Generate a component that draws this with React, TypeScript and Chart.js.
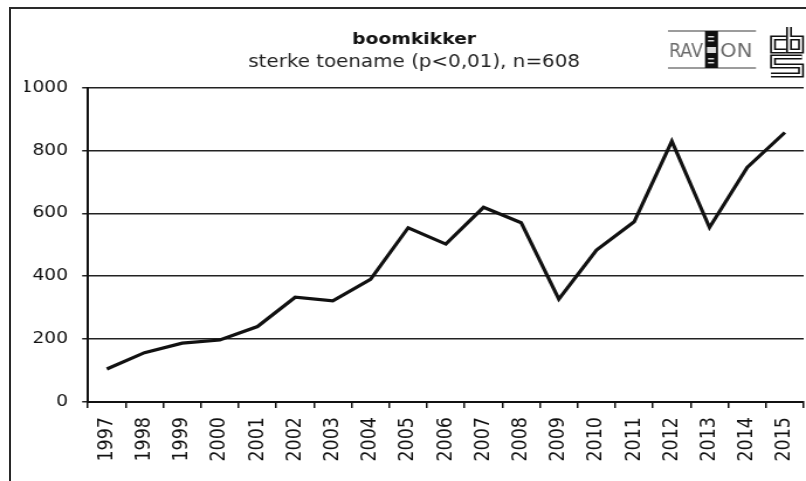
import React, { useEffect, useRef } from 'react';
import { Chart, registerables } from 'chart.js';

Chart.register(...registerables);

// ---- data ----
const years = ['1997', '1998', '1999', '2000', '2001', '2002', '2003', '2004', '2005', '2006', '2007', '2008', '2009', '2010', '2011', '2012', '2013', '2014', '2015'];
const counts = [105, 157, 187, 197, 240, 333, 322, 390, 554, 502, 619, 570, 327, 483, 573, 829, 555, 746, 857];
const yTicks = [0, 200, 400, 600, 800, 1000];
const yTickLabels = ['0', '200', '400', '600', '800', '1000'];
const titleText = 'boomkikker';
const subtitleText = 'sterke toename (p<0,01), n=608';
const logoLeftParts = ['RAV', 'ON'];
const logoRight = 'cbs';

// ---- layout ----
const W = 689;
const H = 481;
const S = 806 / W; // horizontal stretch of the reference
const FONT = '"DejaVu Sans", Verdana, sans-serif';
const PAD_L = 21;
const PAD_R = 2;
const AXIS_X = 88 / S;
const AXIS_BOTTOM = 402;

const logoPlugin = {
  id: 'logos',
  afterDraw(chart: any) {
    const ctx: CanvasRenderingContext2D = chart.ctx;
    const X = (x: number) => x / S;
    ctx.save();
    // RAVON
    ctx.strokeStyle = '#9c9c9c';
    ctx.lineWidth = 2;
    ctx.beginPath();
    ctx.moveTo(X(668), 31);
    ctx.lineTo(X(756), 31);
    ctx.moveTo(X(668), 68);
    ctx.lineTo(X(756), 68);
    ctx.stroke();
    ctx.fillStyle = '#6a6a6a';
    ctx.font = '20px "Liberation Sans Narrow", "DejaVu Sans Condensed", sans-serif';
    ctx.textBaseline = 'alphabetic';
    ctx.textAlign = 'left';
    ctx.fillText(logoLeftParts[0], X(669), 57, X(703) - X(669));
    ctx.fillText(logoLeftParts[1], X(720), 57, X(753) - X(720));
    ctx.fillStyle = '#111';
    ctx.fillRect(X(705), 31, X(718) - X(705), 37);
    ctx.fillStyle = '#ddd';
    ctx.fillRect(X(708), 36, X(714) - X(708), 1.5);
    ctx.fillRect(X(708), 40, X(714) - X(708), 1.5);
    ctx.fillRect(X(707), 47, X(716) - X(707), 6);
    ctx.fillRect(X(708), 58, X(714) - X(708), 1.5);
    ctx.fillRect(X(708), 62, X(714) - X(708), 1.5);
    // cbs (outlined strokes)
    const outlined = (pts: number[][]) => {
      ctx.beginPath();
      pts.forEach(([x, y], i) => (i ? ctx.lineTo(X(x), y) : ctx.moveTo(X(x), y)));
      ctx.lineJoin = 'miter';
      ctx.lineCap = 'butt';
      ctx.lineWidth = 5;
      ctx.strokeStyle = '#111';
      ctx.stroke();
      ctx.lineWidth = 1.8;
      ctx.strokeStyle = '#fff';
      ctx.stroke();
    };
    outlined([[786, 38], [773, 38], [773, 51], [786, 51]]);
    outlined([[789, 27], [789, 51], [801, 51], [801, 38], [789, 38]]);
    outlined([[802, 57], [773, 57], [773, 66], [801, 66], [801, 75], [771, 75]]);
    ctx.restore();
  },
};

export default function App() {
  const ref = useRef<HTMLCanvasElement>(null);

  useEffect(() => {
    if (!ref.current) return;
    const chart = new Chart(ref.current, {
      type: 'line',
      data: {
        labels: years,
        datasets: [
          {
            data: counts,
            borderColor: '#111',
            borderWidth: 3.2,
            pointRadius: 0,
            tension: 0,
            fill: false,
          },
        ],
      },
      options: {
        animation: false,
        responsive: false,
        maintainAspectRatio: false,
        layout: { padding: { left: PAD_L, right: PAD_R, top: 0, bottom: 0 } },
        plugins: {
          legend: { display: false },
          tooltip: { enabled: false },
          title: {
            display: true,
            text: titleText,
            color: '#111',
            font: { family: FONT, size: 16, weight: 'bold', lineHeight: 1.2 },
            padding: { top: 30.4, bottom: 0 },
          },
          subtitle: {
            display: true,
            text: subtitleText,
            color: '#222',
            font: { family: FONT, size: 17, weight: 'normal', lineHeight: 1.2 },
            padding: { top: 2.7, bottom: 14.8 },
          },
        },
        scales: {
          x: {
            type: 'category',
            offset: true,
            grid: {
              display: true,
              drawOnChartArea: false,
              drawTicks: true,
              tickLength: 6,
              offset: true,
              color: '#111',
              lineWidth: 1.5,
            },
            border: { display: true, color: '#111', width: 2 },
            ticks: {
              autoSkip: false,
              maxRotation: 90,
              minRotation: 90,
              padding: 9,
              color: '#111',
              font: { family: FONT, size: 17.5 },
            },
            afterFit(scale: any) {
              scale.height = H - AXIS_BOTTOM;
              scale.paddingLeft = 0;
              scale.paddingRight = 0;
            },
          },
          y: {
            min: 0,
            max: 1000,
            grid: { color: '#222', lineWidth: 1.5, tickLength: 5, drawTicks: true },
            border: { display: true, color: '#111', width: 2 },
            ticks: {
              padding: 12,
              color: '#111',
              font: { family: FONT, size: 16 },
              stepSize: 200,
              callback: (value: any) => {
                const i = yTicks.indexOf(Number(value));
                return i >= 0 ? yTickLabels[i] : String(value);
              },
            },
            afterBuildTicks(scale: any) {
              scale.ticks = yTicks.map((v) => ({ value: v }));
            },
            afterFit(scale: any) {
              scale.width = AXIS_X - PAD_L;
              scale.paddingTop = 0;
              scale.paddingBottom = 0;
            },
          },
        },
      },
      plugins: [logoPlugin],
    } as any);
    return () => chart.destroy();
  }, []);

  return (
    <div style={{ position: 'absolute', left: 0, top: 0, width: 806, height: 481, overflow: 'hidden', background: '#fff' }}>
      <canvas
        ref={ref}
        width={W}
        height={H}
        style={{ width: '806px', height: '481px', display: 'block' }}
        aria-label={logoRight}
      />
      <div
        style={{
          position: 'absolute',
          left: 9,
          top: 7,
          width: 900,
          height: 600,
          borderLeft: '2px solid #2a2a2a',
          borderTop: '2px solid #2a2a2a',
          pointerEvents: 'none',
        }}
      />
    </div>
  );
}
